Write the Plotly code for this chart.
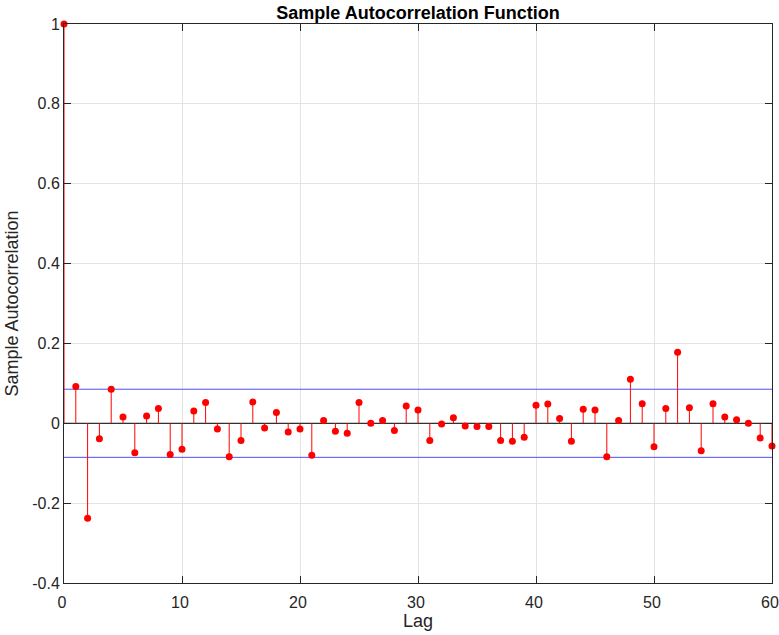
import plotly.graph_objects as go

# Sample autocorrelation, lags 0..60
lags = list(range(61))
acf = [
    1.000, 0.092, -0.238, -0.039, 0.085, 0.016, -0.074, 0.018, 0.037, -0.078,
    -0.065, 0.031, 0.052, -0.014, -0.084, -0.043, 0.053, -0.012, 0.027, -0.022,
    -0.014, -0.080, 0.007, -0.020, -0.025, 0.052, 0.000, 0.007, -0.018, 0.043,
    0.033, -0.043, -0.002, 0.014, -0.007, -0.008, -0.008, -0.043, -0.045, -0.035,
    0.045, 0.048, 0.012, -0.045, 0.035, 0.033, -0.084, 0.007, 0.110, 0.049,
    -0.059, 0.037, 0.178, 0.039, -0.069, 0.049, 0.016, 0.009, 0.000, -0.037,
    -0.057,
]
conf_bound = 0.0853

x_ticks = [0, 10, 20, 30, 40, 50, 60]
y_ticks = [-0.4, -0.2, 0, 0.2, 0.4, 0.6, 0.8, 1]
y_tick_text = ["-0.4", "-0.2", "0", "0.2", "0.4", "0.6", "0.8", "1"]

FONT = "Liberation Sans, Arial, Helvetica, sans-serif"
AXIS_COLOR = "#262626"

# stem segments from baseline to each value
stem_x, stem_y = [], []
for lag, v in zip(lags, acf):
    stem_x += [lag, lag, None]
    stem_y += [0, v, None]

fig = go.Figure()

# confidence bounds
for b in (conf_bound, -conf_bound):
    fig.add_trace(go.Scatter(
        x=[lags[0], lags[-1]], y=[b, b], mode="lines",
        line=dict(color="#4d4dff", width=1), hoverinfo="skip", showlegend=False,
    ))

# baseline
fig.add_trace(go.Scatter(
    x=[lags[0], lags[-1]], y=[0, 0], mode="lines",
    line=dict(color="#000000", width=1), hoverinfo="skip", showlegend=False,
))

# stems
fig.add_trace(go.Scatter(
    x=stem_x, y=stem_y, mode="lines",
    line=dict(color="#ff0000", width=1), hoverinfo="skip", showlegend=False,
))

# markers
fig.add_trace(go.Scatter(
    x=lags, y=acf, mode="markers",
    marker=dict(color="#ff0000", size=7, line=dict(width=0)),
    showlegend=False, cliponaxis=False,
))

fig.update_layout(
    width=779, height=635,
    margin=dict(l=64, r=7, t=24, b=52, autoexpand=False),
    paper_bgcolor="white", plot_bgcolor="white",
    font=dict(family=FONT, size=16, color=AXIS_COLOR),
    title=dict(
        text="Sample Autocorrelation Function",
        font=dict(family=FONT, size=18, color="#000000", weight="bold"),
        x=0.5, xref="paper", xanchor="center",
        y=1 - 13 / 635, yanchor="middle",
    ),
    showlegend=False,
)

fig.update_xaxes(
    range=[0, 60], tickvals=x_ticks, ticktext=[str(t) for t in x_ticks],
    showgrid=True, gridcolor="#e3e3e3", gridwidth=1,
    zeroline=False, showline=True, linecolor=AXIS_COLOR, linewidth=1,
    mirror="ticks", ticks="inside", ticklen=7, tickcolor=AXIS_COLOR,
    tickfont=dict(size=16, color=AXIS_COLOR),
    ticklabeloverflow="allow", ticklabelstandoff=5, ticklabelshift=-2,
    automargin=False,
    title=dict(text="Lag", font=dict(size=18, color=AXIS_COLOR), standoff=4),
)
fig.update_yaxes(
    range=[-0.4, 1], tickvals=y_ticks, ticktext=y_tick_text,
    showgrid=True, gridcolor="#e3e3e3", gridwidth=1,
    zeroline=False, showline=True, linecolor=AXIS_COLOR, linewidth=1,
    mirror="ticks", ticks="inside", ticklen=7, tickcolor=AXIS_COLOR,
    tickfont=dict(size=16, color=AXIS_COLOR),
    ticklabeloverflow="allow", automargin=False,
    title=dict(text="Sample Autocorrelation", font=dict(size=18, color=AXIS_COLOR), standoff=8),
)

fig.write_html("out.html")
